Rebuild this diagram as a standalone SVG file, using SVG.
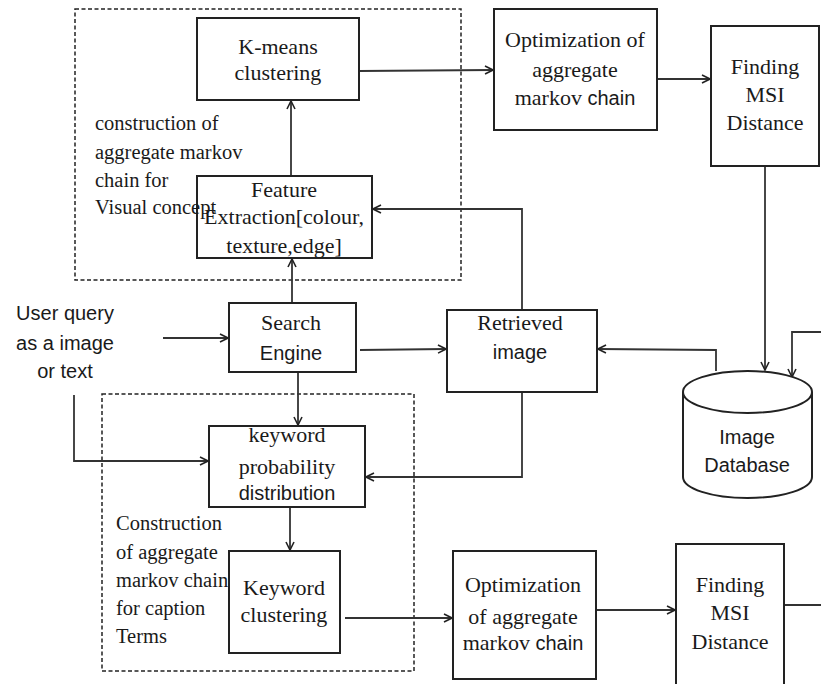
<svg xmlns="http://www.w3.org/2000/svg" width="821" height="684" viewBox="0 0 821 684">
<style>
.box{fill:#fff;stroke:#222;stroke-width:2}
.dash{fill:none;stroke:#222;stroke-width:1.5;stroke-dasharray:4 2.5}
.c{fill:none;stroke:#333;stroke-width:1.8;marker-end:url(#ah)}
.cn{fill:none;stroke:#333;stroke-width:1.8}
.s{font-family:"Liberation Serif","Times New Roman",serif;font-size:22px;fill:#1a1a1a}
.l{font-family:"Liberation Serif","Times New Roman",serif;font-size:20.5px;fill:#1a1a1a}
.a{font-family:"Liberation Sans",Arial,sans-serif;font-size:20px;fill:#1a1a1a}
.m{text-anchor:middle}
</style>
<defs>
<marker id="ah" viewBox="0 0 10 10" refX="9" refY="5" markerWidth="10" markerHeight="10" markerUnits="userSpaceOnUse" orient="auto">
<path d="M1,1 L9,5 L1,9" fill="none" stroke="#222" stroke-width="1.6"/>
</marker>
</defs>
<rect class="dash" x="75" y="9" width="386" height="271"/>
<rect class="dash" x="102" y="394" width="312" height="277"/>
<g id="connectors">
<path class="c" d="M291,176 L291,101"/>
<path class="c" d="M292,303 L292,259"/>
<path class="c" d="M359,71 L493,70"/>
<path class="c" d="M657,79 L710,79"/>
<path class="c" d="M765,166 L765,370"/>
<path class="c" d="M163,338 L228,338"/>
<path class="c" d="M74,395 L74,461 L208,461"/>
<path class="c" d="M298,372 L298,425"/>
<path class="c" d="M360,350 L446,349"/>
<path class="c" d="M522,310 L522,209 L373,209"/>
<path class="c" d="M522,392 L522,477 L366,477"/>
<path class="c" d="M716,371 L716,350 L598,349"/>
<path class="c" d="M821,332 L792,332 L792,377"/>
<path class="c" d="M290,507 L290,550"/>
<path class="c" d="M345,618 L452,618"/>
<path class="c" d="M596,610 L675,610"/>
<path class="cn" d="M784,605 L821,605"/>
</g>
<g id="kmeans">
<rect class="box" x="197" y="18" width="162" height="82"/>
<text class="s m" x="278" y="54">K-means</text>
<text class="s m" x="278" y="80">clustering</text>
</g>
<g id="feature">
<rect class="box" x="197" y="176" width="175" height="82"/>
<text class="s m" x="284" y="197">Feature</text>
<text class="s m" x="284" y="224">Extraction[colour,</text>
<text class="s m" x="284" y="253">texture,edge]</text>
</g>
<g id="visual-label">
<text class="l" x="95" y="130">construction of</text>
<text class="l" x="95" y="159">aggregate markov</text>
<text class="l" x="95" y="187">chain for</text>
<text class="l" x="95" y="214">Visual concept</text>
</g>
<g id="opt-top">
<rect class="box" x="494" y="9" width="163" height="121"/>
<text class="s m" x="575" y="47">Optimization of</text>
<text class="s m" x="575" y="77">aggregate</text>
<text class="s m" x="575" y="105">markov <tspan class="a">chain</tspan></text>
</g>
<g id="find-top">
<rect class="box" x="711" y="26" width="108" height="140"/>
<text class="s m" x="765" y="74">Finding</text>
<text class="s m" x="765" y="102">MSI</text>
<text class="s m" x="765" y="130">Distance</text>
</g>
<g id="query">
<text class="a m" x="65" y="320">User query</text>
<text class="a m" x="65" y="350">as a image</text>
<text class="a m" x="65" y="378">or text</text>
</g>
<g id="search">
<rect class="box" x="229" y="303" width="127" height="69"/>
<text class="s m" x="291" y="330">Search</text>
<text class="a m" x="291" y="360">Engine</text>
</g>
<g id="retrieved">
<rect class="box" x="447" y="310" width="150" height="82"/>
<text class="s m" x="520" y="330">Retrieved</text>
<text class="a m" x="520" y="359">image</text>
</g>
<g id="database">
<path class="box" d="M683,392 L683,477 A64.5,21 0 0 0 812,477 L812,392 A64.5,21 0 0 0 683,392 Z"/>
<path d="M683,392 A64.5,21 0 0 0 812,392" fill="none" stroke="#222" stroke-width="2"/>
<text class="a m" x="747" y="444">Image</text>
<text class="a m" x="747" y="472">Database</text>
</g>
<g id="keyword-prob">
<rect class="box" x="209" y="426" width="156" height="81"/>
<text class="s m" x="287" y="442">keyword</text>
<text class="s m" x="287" y="474">probability</text>
<text class="a m" x="287" y="500">distribution</text>
</g>
<g id="caption-label">
<text class="l" x="116" y="530">Construction</text>
<text class="l" x="116" y="559">of aggregate</text>
<text class="l" x="116" y="587">markov chain</text>
<text class="l" x="116" y="615">for caption</text>
<text class="l" x="116" y="643">Terms</text>
</g>
<g id="keyword-clust">
<rect class="box" x="229" y="551" width="111" height="102"/>
<text class="s m" x="284" y="595">Keyword</text>
<text class="s m" x="284" y="622">clustering</text>
</g>
<g id="opt-bot">
<rect class="box" x="453" y="551" width="143" height="128"/>
<text class="s m" x="523" y="592">Optimization</text>
<text class="s m" x="523" y="624">of aggregate</text>
<text class="s m" x="523" y="650">markov <tspan class="a">chain</tspan></text>
</g>
<g id="find-bot">
<rect class="box" x="676" y="544" width="108" height="150"/>
<text class="s m" x="730" y="592">Finding</text>
<text class="s m" x="730" y="620">MSI</text>
<text class="s m" x="730" y="649">Distance</text>
</g>
</svg>
